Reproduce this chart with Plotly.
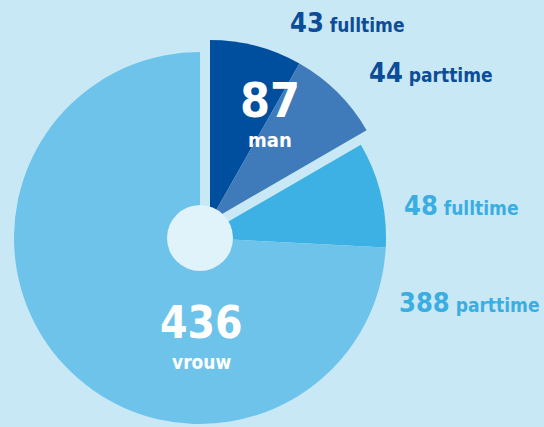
import plotly.graph_objects as go

W, H = 544, 427

groups = ["man", "man", "vrouw", "vrouw"]
types = ["fulltime", "parttime", "fulltime", "parttime"]
values = [43, 44, 48, 388]
colors = ["#004f9e", "#3f7bbb", "#3db1e3", "#6dc3ea"]
group_totals = {"man": 87, "vrouw": 436}
label_colors = {"man": "#0d4d97", "vrouw": "#3aade1"}

BG = "#c9e8f6"
HOLE = "#e0f2fa"
FONT = "DejaVu Sans Condensed"


def px_domain(cx, cy, r):
    return dict(x=[(cx - r) / W, (cx + r) / W], y=[1 - (cy + r) / H, 1 - (cy - r) / H])


def pie_for(group, cx, cy, r):
    cols = [c if g == group else "rgba(0,0,0,0)" for c, g in zip(colors, groups)]
    return go.Pie(
        values=values,
        labels=[f"{g} {t}" for g, t in zip(groups, types)],
        marker=dict(colors=cols, line=dict(width=0)),
        sort=False,
        direction="clockwise",
        rotation=0,
        textinfo="none",
        hoverinfo="skip",
        showlegend=False,
        domain=px_domain(cx, cy, r),
    )


fig = go.Figure()
fig.add_trace(pie_for("vrouw", 200, 238, 186))
fig.add_trace(pie_for("man", 210, 221, 181))

hc, hr = (200, 238), 33
fig.add_shape(type="circle", xref="paper", yref="paper",
              x0=(hc[0] - hr) / W, x1=(hc[0] + hr) / W,
              y0=1 - (hc[1] + hr) / H, y1=1 - (hc[1] - hr) / H,
              fillcolor=HOLE, line=dict(width=0), layer="above")


def ann(text, x, y, size, color, xanchor="center"):
    fig.add_annotation(text=text, x=x / W, y=1 - y / H, xref="paper", yref="paper",
                       showarrow=False, xanchor=xanchor, yanchor="middle",
                       font=dict(family=FONT, size=size, color=color, weight="bold"))


# group totals
ann(str(group_totals["man"]), 270, 100, 48, "white")
ann("man", 270, 140, 20, "white")
ann(str(group_totals["vrouw"]), 201, 322, 44, "white")
ann("vrouw", 201, 362, 19, "white")

# slice labels
pos = [(288, 22), (367, 73), (402, 205), (397, 302)]
for (x, y), v, g, t in zip(pos, values, groups, types):
    ann(f"<span style='font-size:27px'>{v}</span> {t}", x, y, 19, label_colors[g], xanchor="left")

fig.update_layout(width=W, height=H, margin=dict(l=0, r=0, t=0, b=0),
                  paper_bgcolor=BG, plot_bgcolor=BG)
fig.write_html("out.html", config={"displayModeBar": False},
               post_script="document.body.style.margin='0';")
